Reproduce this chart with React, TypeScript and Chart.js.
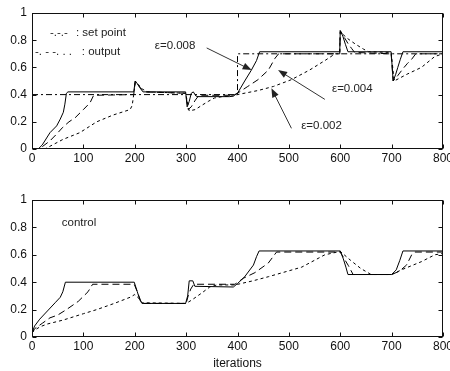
import React, { useEffect, useRef } from 'react';
import { Chart, registerables } from 'chart.js';

Chart.register(...registerables);

type P = [number, number];

// ---- data (iteration, value) ----
const xMin = 0;
const xMax = 800;
const xStep = 100;
const yMin = 0;
const yMax = 1;
const yStep = 0.2;

const setPoint: P[] = [[0, 0.4], [400, 0.4], [400, 0.7], [800, 0.7]];

// output, eps = 0.008 (solid)
const outFast: P[] = [
  [0, 0], [12, 0], [20, 0.03], [35, 0.12], [48, 0.17], [55, 0.22], [61, 0.27], [64, 0.33], [67, 0.41], [70, 0.42],
  [198, 0.42], [201, 0.5], [205, 0.48], [210, 0.45], [216, 0.42], [299, 0.42], [302, 0.31], [306, 0.35], [310, 0.41],
  [314, 0.42], [319, 0.39], [323, 0.385], [385, 0.385], [392, 0.39], [400, 0.41], [414, 0.5], [427, 0.58], [437, 0.65],
  [443, 0.715], [599, 0.715], [600, 0.87], [605, 0.83], [610, 0.77], [615, 0.715], [699, 0.715], [703, 0.5],
  [708, 0.55], [712, 0.6], [717, 0.66], [722, 0.715], [800, 0.715],
];
// output, eps = 0.004 (dashed)
const outMid: P[] = [
  [0, 0], [15, 0], [21, 0.02], [35, 0.06], [48, 0.11], [60, 0.16], [72, 0.2], [84, 0.23], [100, 0.29], [113, 0.34],
  [120, 0.395], [198, 0.4], [201, 0.5], [207, 0.47], [213, 0.44], [220, 0.42], [299, 0.41], [304, 0.29], [310, 0.31],
  [318, 0.36], [326, 0.4], [330, 0.395], [392, 0.395], [400, 0.41], [420, 0.46], [440, 0.51], [460, 0.58], [473, 0.667],
  [480, 0.7], [599, 0.7], [600, 0.87], [608, 0.82], [616, 0.77], [622, 0.74], [628, 0.71], [699, 0.7], [703, 0.5],
  [712, 0.54], [722, 0.59], [731, 0.63], [739, 0.66], [747, 0.7], [800, 0.7],
];
// output, eps = 0.002 (dotted)
const outSlow: P[] = [
  [0, 0], [25, 0], [35, 0.02], [60, 0.07], [93, 0.12], [126, 0.2], [158, 0.25], [191, 0.29], [195, 0.32], [198, 0.4],
  [201, 0.49], [208, 0.47], [215, 0.44], [225, 0.42], [299, 0.41], [306, 0.28], [318, 0.29], [330, 0.32], [343, 0.35],
  [355, 0.375], [370, 0.385], [392, 0.39], [400, 0.4], [440, 0.43], [470, 0.46], [505, 0.51], [540, 0.58], [570, 0.65],
  [590, 0.7], [599, 0.7], [600, 0.86], [615, 0.81], [630, 0.77], [645, 0.735], [655, 0.715], [699, 0.71], [705, 0.5],
  [730, 0.55], [758, 0.6], [784, 0.68], [800, 0.7],
];

// control signals
const ctlFast: P[] = [
  [0, 0.03], [5, 0.08], [15, 0.13], [30, 0.19], [45, 0.25], [55, 0.29], [60, 0.33], [65, 0.4], [199, 0.4], [205, 0.33],
  [210, 0.27], [214, 0.245], [299, 0.245], [303, 0.3], [306, 0.41], [313, 0.41], [317, 0.37], [392, 0.365], [400, 0.39],
  [414, 0.44], [431, 0.525], [437, 0.586], [442, 0.628], [600, 0.628], [606, 0.57], [611, 0.51], [615, 0.456],
  [700, 0.456], [709, 0.49], [716, 0.56], [722, 0.628], [800, 0.628],
];
const ctlMid: P[] = [
  [0, 0.03], [5, 0.06], [20, 0.1], [35, 0.14], [50, 0.16], [67, 0.2], [90, 0.26], [109, 0.33], [118, 0.385],
  [199, 0.385], [206, 0.32], [212, 0.26], [216, 0.245], [300, 0.245], [304, 0.3], [309, 0.35], [314, 0.38], [320, 0.385],
  [395, 0.385], [412, 0.43], [434, 0.47], [460, 0.54], [470, 0.59], [476, 0.62], [600, 0.62], [608, 0.57], [616, 0.52],
  [625, 0.456], [700, 0.456], [715, 0.48], [729, 0.525], [739, 0.6], [745, 0.62], [800, 0.62],
];
const ctlSlow: P[] = [
  [0, 0.03], [5, 0.05], [16, 0.075], [30, 0.095], [61, 0.124], [100, 0.17], [126, 0.2], [160, 0.245], [191, 0.29],
  [200, 0.31], [206, 0.29], [215, 0.25], [300, 0.245], [311, 0.27], [330, 0.32], [346, 0.365], [360, 0.38], [395, 0.38],
  [430, 0.41], [460, 0.44], [525, 0.51], [570, 0.6], [600, 0.625], [620, 0.56], [640, 0.5], [660, 0.456], [700, 0.456],
  [719, 0.49], [758, 0.55], [784, 0.6], [800, 0.61],
];

// ---- annotations (in data coordinates) ----
const topTexts = [
  { text: '-.-.-', x: 35, y: 0.853 },
  { text: ': set point', x: 85.6, y: 0.853 },
  { text: '-. - -. . .', x: 5.8, y: 0.713 },
  { text: ': output', x: 97, y: 0.713 },
  { text: 'ε=0.008', x: 239, y: 0.757 },
  { text: 'ε=0.004', x: 584, y: 0.44 },
  { text: 'ε=0.002', x: 524, y: 0.17 },
];
const topArrows = [
  { from: [340, 0.743], to: [427.5, 0.58] },
  { from: [570, 0.365], to: [479, 0.58] },
  { from: [505, 0.152], to: [466, 0.446] },
];
const botTexts = [{ text: 'control', x: 58, y: 0.83 }];

const FONT = '"Liberation Sans", Arial, sans-serif';

const framePlugin = {
  id: 'frame',
  afterDraw(chart: any, _args: any, opts: any) {
    const { ctx, chartArea: a, scales } = chart;
    const xs = scales.x;
    const ys = scales.y;
    ctx.save();
    ctx.strokeStyle = '#111';
    ctx.lineWidth = 1;
    const L = Math.round(a.left) + 0.5;
    const R = Math.round(a.right) - 0.5;
    const T = Math.round(a.top) + 0.5;
    const B = Math.round(a.bottom) - 0.5;
    ctx.strokeRect(L, T, R - L, B - T);
    const tl = 4;
    ctx.beginPath();
    xs.ticks.forEach((t: any) => {
      const px = Math.round(xs.getPixelForValue(t.value)) + 0.5;
      ctx.moveTo(px, B);
      ctx.lineTo(px, B - tl);
      ctx.moveTo(px, T);
      ctx.lineTo(px, T + tl);
    });
    ys.ticks.forEach((t: any) => {
      const py = Math.round(ys.getPixelForValue(t.value)) + 0.5;
      ctx.moveTo(L, py);
      ctx.lineTo(L + tl, py);
      ctx.moveTo(R, py);
      ctx.lineTo(R - tl, py);
    });
    ctx.stroke();

    ctx.fillStyle = '#222';
    ctx.font = `11.5px ${FONT}`;
    ctx.textBaseline = 'middle';
    ctx.textAlign = 'left';
    (opts.texts || []).forEach((t: any) => {
      ctx.fillText(t.text, xs.getPixelForValue(t.x), ys.getPixelForValue(t.y));
    });

    ctx.strokeStyle = '#333';
    ctx.fillStyle = '#222';
    (opts.arrows || []).forEach((ar: any) => {
      const x1 = xs.getPixelForValue(ar.from[0]);
      const y1 = ys.getPixelForValue(ar.from[1]);
      const x2 = xs.getPixelForValue(ar.to[0]);
      const y2 = ys.getPixelForValue(ar.to[1]);
      const ang = Math.atan2(y2 - y1, x2 - x1);
      const len = 9;
      const w = 3.5;
      ctx.beginPath();
      ctx.moveTo(x1, y1);
      ctx.lineTo(x2 - 4 * Math.cos(ang), y2 - 4 * Math.sin(ang));
      ctx.stroke();
      ctx.beginPath();
      ctx.moveTo(x2, y2);
      ctx.lineTo(x2 - len * Math.cos(ang) + w * Math.sin(ang), y2 - len * Math.sin(ang) - w * Math.cos(ang));
      ctx.lineTo(x2 - len * Math.cos(ang) - w * Math.sin(ang), y2 - len * Math.sin(ang) + w * Math.cos(ang));
      ctx.closePath();
      ctx.fill();
    });
    ctx.restore();
  },
};

const line = (data: P[], dash: number[]) => ({
  data: data.map(([x, y]) => ({ x, y })),
  borderColor: '#000',
  borderWidth: 1,
  borderDash: dash,
  pointRadius: 0,
  tension: 0,
  fill: false,
});

const makeConfig = (
  datasets: any[],
  padTop: number,
  xHeight: number,
  title: string | null,
  texts: any[],
  arrows: any[],
): any => ({
  type: 'line',
  data: { datasets },
  plugins: [framePlugin],
  options: {
    animation: false,
    responsive: false,
    devicePixelRatio: 1,
    layout: { padding: { top: padTop, right: 7, left: 0, bottom: 0 } },
    plugins: {
      legend: { display: false },
      tooltip: { enabled: false },
      frame: { texts, arrows },
    },
    scales: {
      x: {
        type: 'linear',
        min: xMin,
        max: xMax,
        grid: { display: false, drawTicks: false },
        border: { display: false },
        ticks: { stepSize: xStep, padding: 2, color: '#111', font: { family: FONT, size: 12 }, maxRotation: 0 },
        title: title
          ? { display: true, text: title, color: '#111', font: { family: FONT, size: 12 }, padding: { top: 0, bottom: 0 } }
          : { display: false },
        afterFit: (s: any) => {
          s.height = xHeight;
          s.paddingLeft = 0;
          s.paddingRight = 0;
        },
      },
      y: {
        type: 'linear',
        min: yMin,
        max: yMax,
        grid: { display: false, drawTicks: false },
        border: { display: false },
        ticks: {
          stepSize: yStep,
          padding: 5,
          color: '#111',
          font: { family: FONT, size: 12 },
          callback: (v: number) => String(Number(Number(v).toFixed(1))),
        },
        afterFit: (s: any) => {
          s.width = 32;
          s.paddingTop = 0;
          s.paddingBottom = 0;
        },
      },
    },
  },
});

export default function App() {
  const topRef = useRef<HTMLCanvasElement>(null);
  const botRef = useRef<HTMLCanvasElement>(null);

  useEffect(() => {
    const c1 = new Chart(
      topRef.current as HTMLCanvasElement,
      makeConfig(
        [line(outFast, []), line(outMid, [7, 4]), line(outSlow, [3, 3]), line(setPoint, [6, 3, 2, 3])],
        13,
        26,
        null,
        topTexts,
        topArrows,
      ),
    );
    const c2 = new Chart(
      botRef.current as HTMLCanvasElement,
      makeConfig(
        [line(ctlFast, []), line(ctlMid, [7, 4]), line(ctlSlow, [3, 3])],
        25,
        34,
        'iterations',
        botTexts,
        [],
      ),
    );
    return () => {
      c1.destroy();
      c2.destroy();
    };
  }, []);

  return (
    <div style={{ position: 'absolute', left: 0, top: 0, width: 450, height: 371, background: '#fff', overflow: 'hidden' }}>
      <canvas ref={topRef} width={450} height={175} style={{ position: 'absolute', left: 0, top: 0 }} />
      <canvas ref={botRef} width={450} height={196} style={{ position: 'absolute', left: 0, top: 175 }} />
    </div>
  );
}
